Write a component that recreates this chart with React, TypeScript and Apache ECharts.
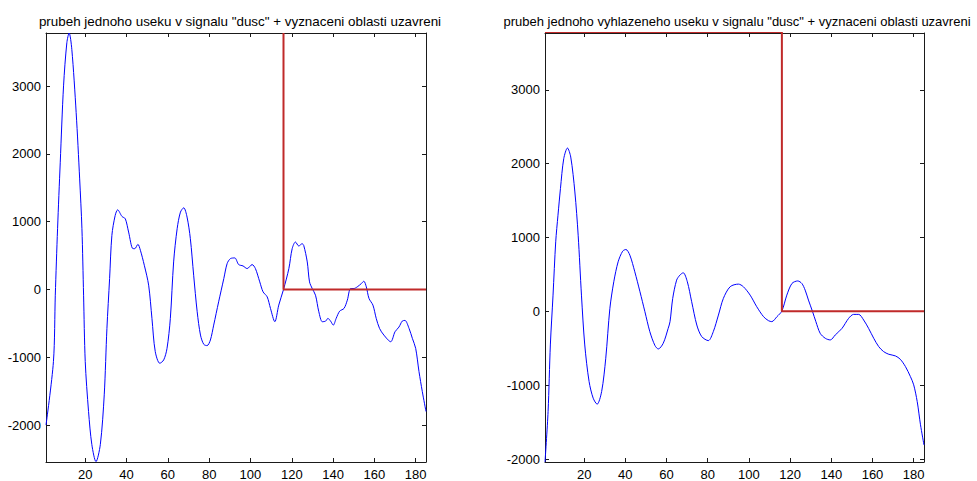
import React, { useEffect, useRef } from "react";
import * as echarts from "echarts";

const titles = [
  'prubeh jednoho useku v signalu "dusc" + vyznaceni oblasti uzavreni',
  'prubeh jednoho vyhlazeneho useku v signalu "dusc" + vyznaceni oblasti uzavreni',
];

const xTicks = [20, 40, 60, 80, 100, 120, 140, 160, 180];
const yTicks = [-2000, -1000, 0, 1000, 2000, 3000];
const xRange = [1, 185];
const leftYRange = [-2545, 3785];
const rightYRange = [-2040, 3770];

const rawX = [
  1, 4.6, 5.5, 6.6, 7.9, 9.5, 11.1, 12.2, 13.5, 15.6, 17.3, 18.4, 19.2, 20, 21.6, 23.2, 25.2, 27.3, 29.2, 30.5,
  31.8, 32.9, 34.5, 35.7, 37.8, 39.4, 41, 43.1, 44, 45.5, 46.7, 48.6, 50.7, 52.3, 53.9, 56.1, 58, 59.6, 61.2, 62.8,
  64.5, 66.1, 67.7, 69.3, 70.9, 72.5, 74.2, 75.8, 77.4, 79, 80.6, 82.2, 84.6, 87.1, 88.7, 90.3, 92.4, 94.3, 96.4, 98.4,
  100.8, 102.4, 104.5, 106.1, 108.1, 109.7, 111.8, 113.7, 116, 118.6, 120.2, 121.8, 123.4, 125, 125.8, 127.5, 128.6, 129.9, 131.5, 133.1,
  134.8, 136.4, 137.5, 138.8, 140.1, 141.5, 143.2, 145.3, 146.9, 148.5, 150.1, 151.7, 153.7, 154.9, 156.1, 157.4, 159.3, 160.9, 162.5, 164.6,
  167.9, 170, 171.9, 173.5, 174.8, 176.8, 178.4, 180, 181.6, 183.2, 185,
];
const rawY = [
  -2000, -1063, -84, 897, 1878, 3005, 3642, 3785, 3544, 2613, 1632, 897, -84, -1063, -1799, -2289, -2540, -2289, -1554, -574,
  162, 799, 1093, 1176, 1078, 1044, 848, 603, 603, 667, 579, 358, 64, -426, -916, -1088, -1039, -868, -430, 407,
  897, 1142, 1206, 1069, 750, 211, -328, -672, -809, -828, -745, -525, -181, 162, 382, 456, 466, 368, 348, 309,
  368, 309, 113, -34, -108, -279, -475, -230, 0, 309, 603, 701, 642, 676, 650, 407, 113, 15, -84, -328,
  -475, -466, -426, -466, -525, -426, -319, -279, -157, 15, 15, 39, 88, 123, 39, -132, -230, -426, -574, -672,
  -770, -623, -554, -466, -456, -574, -721, -868, -1210, -1504, -1800,
];

const smoothX = [
  1, 2.5, 3.6, 4.9, 6.2, 7.3, 8.5, 10.1, 11.9, 13.5, 15.5, 17.1, 18.7, 20.3, 22.4, 24.4, 26.3, 28.5, 30.5, 32.5,
  34.4, 36.5, 38.7, 40.3, 42.2, 44.6, 47.1, 49.5, 51.9, 54.4, 56, 58.4, 60.8, 61.7, 63, 64.9, 66.5, 68.1, 70.1, 72.2,
  74.7, 77.1, 80.3, 82.7, 85.2, 87.6, 90.9, 94.9, 97.3, 100.6, 103.8, 107.1, 109.5, 111.1, 113.6, 116, 118.4, 120.9, 123.7, 125.7,
  127.3, 128.9, 130.9, 132.5, 134.6, 137.1, 139.5, 141.9, 145.2, 148.4, 150.8, 153.3, 155.7, 158.1, 160.6, 163, 165.4, 167.9, 171.1, 173.5,
  176, 178.4, 180, 181.7, 183.3, 185,
];
const smoothY = [
  -2040, -1356, -455, 220, 942, 1302, 1662, 2068, 2212, 2090, 1617, 1031, 220, -455, -950, -1176, -1257, -1085, -635, 41,
  401, 671, 815, 838, 761, 536, 266, -4, -275, -464, -509, -432, -230, -139, 175, 423, 491, 523, 401, 131,
  -185, -342, -396, -275, -50, 176, 334, 369, 334, 220, 63, -72, -126, -139, -72, 5, 220, 378, 412, 378,
  288, 153, -4, -139, -297, -365, -387, -320, -230, -95, -41, -41, -117, -230, -365, -477, -545, -581, -603, -649,
  -748, -883, -995, -1221, -1536, -1810,
];

const closeX = 116;
const closeTop = 3785;

const FONT = "'Liberation Sans', Arial, sans-serif";

function pairs(xs: number[], ys: number[]) {
  return xs.map((x, i) => [x, ys[i]]);
}

export default function App() {
  const ref = useRef<HTMLDivElement>(null);
  useEffect(() => {
    document.body.style.margin = "0";
    const chart = echarts.init(ref.current!, null, { renderer: "svg" });
    const grids = [
      { left: 46, right: 551, top: 33, bottom: 17 },
      { left: 545, right: 53, top: 33, bottom: 17 },
    ];
    const axLine = { show: true, lineStyle: { color: "#1a1a1a", width: 1 } };
    const fmt = (v: number) => String(v);
    const xAxes: any[] = [];
    const yAxes: any[] = [];
    [leftYRange, rightYRange].forEach((yr, g) => {
      [
        { pos: "bottom", lab: true },
        { pos: "top", lab: false },
      ].forEach((o) => {
        xAxes.push({
          type: "value",
          gridIndex: g,
          position: o.pos,
          min: xRange[0],
          max: xRange[1],
          axisLine: { ...axLine, onZero: false },
          axisTick: { show: true, inside: true, length: 4, customValues: xTicks, lineStyle: { color: "#1a1a1a" } },
          axisLabel: {
            show: o.lab,
            customValues: xTicks,
            formatter: fmt,
            color: "#000",
            fontFamily: FONT,
            fontSize: 13,
            margin: 6,
          },
          splitLine: { show: false },
        });
      });
      [
        { pos: "left", lab: true },
        { pos: "right", lab: false },
      ].forEach((o) => {
        yAxes.push({
          type: "value",
          gridIndex: g,
          position: o.pos,
          min: yr[0],
          max: yr[1],
          axisLine: { ...axLine, onZero: false },
          axisTick: { show: true, inside: true, length: 4, customValues: yTicks, lineStyle: { color: "#1a1a1a" } },
          axisLabel: {
            show: o.lab,
            customValues: yTicks,
            formatter: fmt,
            color: "#000",
            fontFamily: FONT,
            fontSize: 13,
            margin: 5,
          },
          splitLine: { show: false },
        });
      });
    });
    chart.setOption({
      animation: false,
      backgroundColor: "#fff",
      title: [
        { text: titles[0], left: 235, top: 10, textAlign: "center", fs: 13.4 },
        { text: titles[1], left: 732, top: 10, textAlign: "center", fs: 13 },
      ].map((t) => ({
        text: t.text,
        left: t.left,
        top: t.top,
        textAlign: t.textAlign,
        textStyle: { fontFamily: FONT, fontSize: t.fs, fontWeight: "normal", color: "#000" },
      })),
      grid: grids,
      xAxis: xAxes,
      yAxis: yAxes,
      series: [
        {
          type: "line",
          xAxisIndex: 0,
          yAxisIndex: 0,
          data: pairs(rawX, rawY),
          showSymbol: false,
          smooth: 0.3,
          lineStyle: { color: "#0000ff", width: 1 },
          z: 3,
        },
        {
          type: "line",
          xAxisIndex: 0,
          yAxisIndex: 0,
          data: [
            [closeX, closeTop],
            [closeX, 0],
            [xRange[1], 0],
          ],
          showSymbol: false,
          lineStyle: { color: "#c02a2a", width: 2 },
          z: 4,
        },
        {
          type: "line",
          xAxisIndex: 2,
          yAxisIndex: 2,
          data: pairs(smoothX, smoothY),
          showSymbol: false,
          smooth: 0.3,
          lineStyle: { color: "#0000ff", width: 1 },
          z: 3,
        },
        {
          type: "line",
          xAxisIndex: 2,
          yAxisIndex: 2,
          data: [
            [xRange[0], closeTop],
            [closeX, closeTop],
            [closeX, 0],
            [xRange[1], 0],
          ],
          showSymbol: false,
          lineStyle: { color: "#c02a2a", width: 2 },
          z: 4,
        },
      ],
    });
    return () => chart.dispose();
  }, []);
  return (
    <div
      ref={ref}
      style={{ position: "absolute", left: 0, top: 0, width: 977, height: 481 }}
    />
  );
}
